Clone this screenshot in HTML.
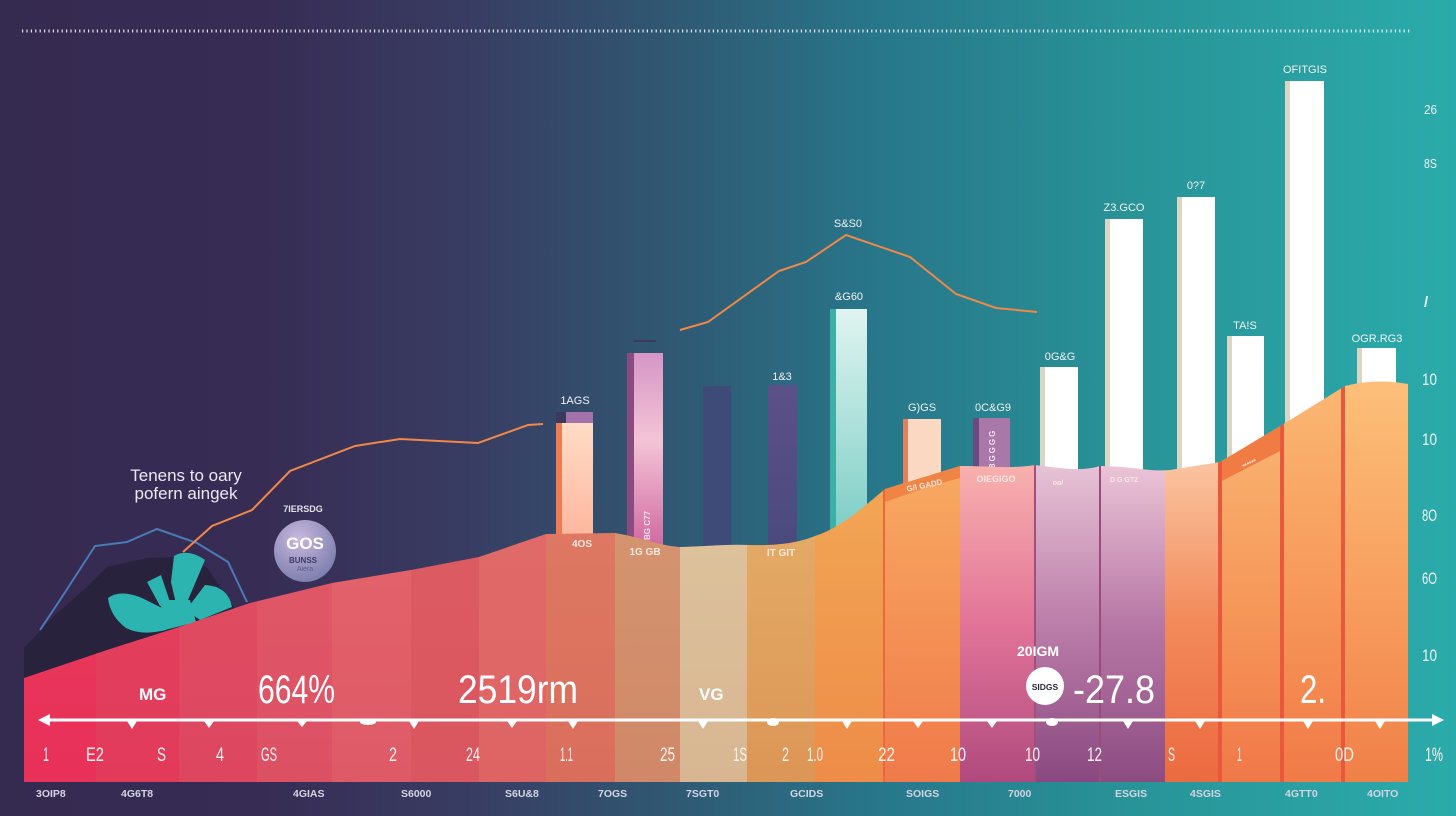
<!DOCTYPE html>
<html><head><meta charset="utf-8">
<style>
html,body{margin:0;padding:0;background:#352a50;}
svg{display:block;}
text{font-family:"Liberation Sans",sans-serif;}
</style></head>
<body>
<svg width="1456" height="816" viewBox="0 0 1456 816" xmlns="http://www.w3.org/2000/svg">
<defs>
<linearGradient id="bg" x1="0" y1="0" x2="1" y2="0">
<stop offset="0" stop-color="#352a50"/>
<stop offset="0.18" stop-color="#372c54"/>
<stop offset="0.32" stop-color="#393c62"/>
<stop offset="0.47" stop-color="#2f5a74"/>
<stop offset="0.6" stop-color="#28768a"/>
<stop offset="0.78" stop-color="#289498"/>
<stop offset="1" stop-color="#2babab"/>
</linearGradient>
<clipPath id="area"><path d="M24,678 L107,650 L179,627 L250,603 L332,583 L411,570 L479,557 L546,534 L615,533 C640,537 660,546 680,547 C710,546 730,544 750,545 C780,546 800,542 815,536 C840,528 860,510 885,489 L960,466 C990,466 1010,469 1035,465 C1060,468 1080,472 1100,466 C1130,466 1150,472 1170,470 L1220,462 C1240,450 1260,438 1282,425 L1345,386 C1365,381 1385,380 1408,384 L1408,782 L24,782 Z"/></clipPath>
<linearGradient id="s1" x1="0" y1="0" x2="0" y2="1"><stop offset="0" stop-color="#e8425f"/><stop offset="1" stop-color="#e83058"/></linearGradient>
<linearGradient id="s2" x1="0" y1="0" x2="0" y2="1"><stop offset="0" stop-color="#e4485f"/><stop offset="1" stop-color="#e23a5b"/></linearGradient>
<linearGradient id="s3" x1="0" y1="0" x2="0" y2="1"><stop offset="0" stop-color="#e15263"/><stop offset="1" stop-color="#de4660"/></linearGradient>
<linearGradient id="s4" x1="0" y1="0" x2="0" y2="1"><stop offset="0" stop-color="#e35e69"/><stop offset="1" stop-color="#dc5064"/></linearGradient>
<linearGradient id="s5" x1="0" y1="0" x2="0" y2="1"><stop offset="0" stop-color="#e5686d"/><stop offset="1" stop-color="#df5a67"/></linearGradient>
<linearGradient id="s6" x1="0" y1="0" x2="0" y2="1"><stop offset="0" stop-color="#de5e63"/><stop offset="1" stop-color="#da5660"/></linearGradient>
<linearGradient id="s7" x1="0" y1="0" x2="0" y2="1"><stop offset="0" stop-color="#e26e6a"/><stop offset="1" stop-color="#de6464"/></linearGradient>
<linearGradient id="s8" x1="0" y1="0" x2="0" y2="1"><stop offset="0" stop-color="#de7862"/><stop offset="1" stop-color="#d96e5c"/></linearGradient>
<linearGradient id="s9" x1="0" y1="0" x2="0" y2="1"><stop offset="0" stop-color="#d4946f"/><stop offset="1" stop-color="#d08868"/></linearGradient>
<linearGradient id="s10" x1="0" y1="0" x2="0" y2="1"><stop offset="0" stop-color="#dcc29c"/><stop offset="1" stop-color="#d8b692"/></linearGradient>
<linearGradient id="s11" x1="0" y1="0" x2="0" y2="1"><stop offset="0" stop-color="#e4aa66"/><stop offset="1" stop-color="#dc9656"/></linearGradient>
<linearGradient id="s12" x1="0" y1="0" x2="0" y2="1"><stop offset="0" stop-color="#f2a654"/><stop offset="1" stop-color="#ee8c48"/></linearGradient>
<linearGradient id="s13" x1="0" y1="0" x2="0" y2="1"><stop offset="0" stop-color="#f8aa62"/><stop offset="1" stop-color="#f07a4a"/></linearGradient>
<linearGradient id="s14" x1="0" y1="0" x2="0" y2="1"><stop offset="0" stop-color="#f8b2ae"/><stop offset="0.5" stop-color="#e27498"/><stop offset="1" stop-color="#b04a7e"/></linearGradient>
<linearGradient id="s15" x1="0" y1="0" x2="0" y2="1"><stop offset="0" stop-color="#e8c4d6"/><stop offset="0.5" stop-color="#bc7eaa"/><stop offset="1" stop-color="#8a4880"/></linearGradient>
<linearGradient id="s16" x1="0" y1="0" x2="0" y2="1"><stop offset="0" stop-color="#ecc6d8"/><stop offset="0.5" stop-color="#b878a6"/><stop offset="1" stop-color="#8c4c82"/></linearGradient>
<linearGradient id="s17" x1="0" y1="0" x2="0" y2="1"><stop offset="0" stop-color="#fac6a2"/><stop offset="0.5" stop-color="#f28a5a"/><stop offset="1" stop-color="#ec6a40"/></linearGradient>
<linearGradient id="s18" x1="0" y1="0" x2="0" y2="1"><stop offset="0" stop-color="#f9b472"/><stop offset="0.5" stop-color="#f6985a"/><stop offset="1" stop-color="#f07848"/></linearGradient>
<linearGradient id="s19" x1="0" y1="0" x2="0" y2="1"><stop offset="0" stop-color="#fbb874"/><stop offset="0.5" stop-color="#f79a5a"/><stop offset="1" stop-color="#f07a48"/></linearGradient>
<linearGradient id="s20" x1="0" y1="0" x2="0" y2="1"><stop offset="0" stop-color="#fcc07a"/><stop offset="0.5" stop-color="#f8a060"/><stop offset="1" stop-color="#f08048"/></linearGradient>
<linearGradient id="bA" x1="0" y1="0" x2="0" y2="1"><stop offset="0" stop-color="#ffdcc6"/><stop offset="1" stop-color="#ffb49c"/></linearGradient>
<linearGradient id="bB" x1="0" y1="0" x2="0" y2="1"><stop offset="0" stop-color="#d696c6"/><stop offset="0.45" stop-color="#f4c4d6"/><stop offset="1" stop-color="#d068a0"/></linearGradient>
<linearGradient id="bE" x1="0" y1="0" x2="0" y2="1"><stop offset="0" stop-color="#e0f4f0"/><stop offset="1" stop-color="#7ccec6"/></linearGradient>
<linearGradient id="bD" x1="0" y1="0" x2="0" y2="1"><stop offset="0" stop-color="#5c5088"/><stop offset="1" stop-color="#4a4a7e"/></linearGradient>
<radialGradient id="circ" cx="0.4" cy="0.3" r="0.8"><stop offset="0" stop-color="#c8b8dc"/><stop offset="1" stop-color="#7478a8"/></radialGradient>
</defs>

<rect x="0" y="0" width="1456" height="816" fill="url(#bg)"/>

<!-- dotted top line -->
<line x1="22" y1="31" x2="1410" y2="31" stroke="#ffffff" stroke-width="3" stroke-dasharray="1.2 3.2" opacity="0.85"/>

<!-- left dark hill -->
<path d="M24,700 L24,648 L53,617 L87,587 L107,567 L147,558 L177,557 L207,567 L220,587 L236,610 L250,640 L24,720 Z" fill="#28223c"/>
<polyline points="40,630 60,600 95,546 127,542 157,529 197,543 228,562 247,602" fill="none" stroke="#4a7ab8" stroke-width="2"/>
<!-- teal flower -->
<g fill="#2bb4b0">
<path d="M174,556 Q188,548 205,560 L188,600 L177,608 L171,582 Z"/>
<path d="M108,598 Q120,589 142,598 L170,612 L166,630 Q142,636 126,628 Q110,616 108,598 Z"/>
<path d="M205,585 Q228,586 232,607 L200,620 L186,610 Z"/>
<path d="M147,582 L161,575 L170,602 L160,606 Z"/>
<path d="M160,600 L190,600 L196,622 L165,630 Z"/>
</g>

<!-- orange line -->
<polyline points="183,552 212,526 252,510 290,471 355,446 400,439 478,443 528,425 543,424" fill="none" stroke="#f08848" stroke-width="2"/>
<polyline points="680,330 708,322 779,271 806,262 846,235 910,257 956,294 996,308 1037,312" fill="none" stroke="#f08848" stroke-width="2"/>

<!-- bars -->
<rect x="556" y="412" width="37" height="12" fill="#a472aa"/>
<rect x="556" y="412" width="10" height="12" fill="#3c3a5c"/>
<rect x="556" y="423" width="37" height="120" fill="url(#bA)"/>
<rect x="556" y="423" width="6" height="120" fill="#ee7c52"/>
<rect x="634" y="340" width="22" height="2" fill="#3a3a5a"/>
<rect x="627" y="353" width="36" height="195" fill="url(#bB)"/>
<rect x="627" y="353" width="7" height="195" fill="#8a4c80"/>
<text x="650" y="540" transform="rotate(-90 650 540)" font-size="8" fill="#f4e4ee" font-weight="bold">BG C77</text>
<rect x="703" y="386" width="28" height="162" fill="#3e4a78"/>
<rect x="768" y="385" width="29" height="163" fill="url(#bD)"/>
<rect x="830" y="309" width="37" height="225" fill="url(#bE)"/>
<rect x="830" y="309" width="6" height="225" fill="#3cb0a6"/>
<rect x="903" y="419" width="38" height="70" fill="#fbd8c2"/>
<rect x="903" y="419" width="5" height="70" fill="#e2805e"/>
<rect x="973" y="418" width="37" height="52" fill="#a878a8"/>
<rect x="973" y="418" width="6" height="52" fill="#6a4a80"/>
<text x="995" y="468" transform="rotate(-90 995 468)" font-size="8" fill="#f2e6f2" font-weight="bold" letter-spacing="2">8GGGG</text>
<g fill="#ffffff">
<rect x="1040" y="367" width="38" height="110"/>
<rect x="1105" y="219" width="38" height="255"/>
<rect x="1177" y="197" width="38" height="280"/>
<rect x="1227" y="336" width="37" height="130"/>
<rect x="1285" y="81" width="39" height="350"/>
<rect x="1357" y="348" width="39" height="40"/>
</g>
<g fill="#dad6c6">
<rect x="1040" y="367" width="5" height="110"/>
<rect x="1105" y="219" width="5" height="255"/>
<rect x="1177" y="197" width="5" height="280"/>
<rect x="1227" y="336" width="5" height="130"/>
<rect x="1285" y="81" width="5" height="350"/>
<rect x="1357" y="348" width="5" height="40"/>
</g>

<!-- area stripes -->
<g clip-path="url(#area)">
<rect x="24" y="370" width="72" height="412" fill="url(#s1)"/>
<rect x="96" y="370" width="83" height="412" fill="url(#s2)"/>
<rect x="179" y="370" width="78" height="412" fill="url(#s3)"/>
<rect x="257" y="370" width="75" height="412" fill="url(#s4)"/>
<rect x="332" y="370" width="79" height="412" fill="url(#s5)"/>
<rect x="411" y="370" width="68" height="412" fill="url(#s6)"/>
<rect x="479" y="370" width="67" height="412" fill="url(#s7)"/>
<rect x="546" y="530" width="69" height="252" fill="url(#s8)"/>
<rect x="615" y="530" width="65" height="252" fill="url(#s9)"/>
<rect x="680" y="530" width="67" height="252" fill="url(#s10)"/>
<rect x="747" y="530" width="68" height="252" fill="url(#s11)"/>
<rect x="815" y="480" width="70" height="302" fill="url(#s12)"/>
<rect x="885" y="462" width="75" height="320" fill="url(#s13)"/>
<rect x="960" y="462" width="75" height="320" fill="url(#s14)"/>
<rect x="1035" y="462" width="65" height="320" fill="url(#s15)"/>
<rect x="1100" y="462" width="65" height="320" fill="url(#s16)"/>
<rect x="1165" y="458" width="55" height="324" fill="url(#s17)"/>
<rect x="1220" y="420" width="62" height="362" fill="url(#s18)"/>
<rect x="1282" y="380" width="63" height="402" fill="url(#s19)"/>
<rect x="1345" y="378" width="63" height="404" fill="url(#s20)"/>
<path d="M885,489 L960,466 L960,478 L930,486 L885,502 Z" fill="#f08444"/>
<path d="M1220,462 C1240,450 1260,438 1282,425 L1282,450 L1220,482 Z" fill="#f07c44"/>
<rect x="883" y="480" width="2" height="302" fill="#e86a3c"/>
<rect x="1034" y="460" width="2" height="322" fill="#a0507e"/>
<rect x="1099" y="460" width="2" height="322" fill="#9a4c7c"/>
<rect x="1218" y="455" width="4" height="327" fill="#e8583a"/>
<rect x="1280" y="420" width="4" height="362" fill="#e8583a"/>
<rect x="1341" y="380" width="4" height="402" fill="#e8583a"/>
</g>

<!-- labels inside area top -->
<g font-size="10" font-weight="bold" fill="#fbe8e0">
<text x="582" y="547" text-anchor="middle">4OS</text>
<text x="645" y="555" text-anchor="middle">1G GB</text>
<text x="781" y="556" text-anchor="middle">IT GIT</text>
<text x="925" y="488" text-anchor="middle" font-size="8" transform="rotate(-12 925 488)">G/I GADD</text>
<text x="996" y="482" text-anchor="middle" font-size="9">OIEGIGO</text>
<text x="1058" y="485" text-anchor="middle" font-size="7">oo/</text>
<text x="1124" y="482" text-anchor="middle" font-size="7">D G GT2</text>
<text x="1250" y="465" text-anchor="middle" font-size="7" transform="rotate(-25 1250 465)">••••••</text>
</g>

<!-- labels over bars -->
<g font-size="11" fill="#f2f2f2" text-anchor="middle">
<text x="575" y="404">1AGS</text>
<text x="782" y="380">1&amp;3</text>
<text x="849" y="300">&amp;G60</text>
<text x="848" y="227">S&amp;S0</text>
<text x="922" y="411">G)GS</text>
<text x="993" y="411">0C&amp;G9</text>
<text x="1060" y="360">0G&amp;G</text>
<text x="1124" y="211">Z3.GCO</text>
<text x="1196" y="189">0?7</text>
<text x="1245" y="329">TA!S</text>
<text x="1305" y="73">OFITGIS</text>
<text x="1377" y="342">OGR.RG3</text>
</g>

<!-- right axis labels -->
<g fill="#eef4f4" font-size="17" lengthAdjust="spacingAndGlyphs">
<text x="1424" y="114" font-size="13" textLength="13" lengthAdjust="spacingAndGlyphs">26</text>
<text x="1424" y="168" font-size="13" textLength="13" lengthAdjust="spacingAndGlyphs">8S</text>
<text x="1424" y="307" font-size="15" font-weight="bold">/</text>
<text x="1422" y="385" textLength="15" lengthAdjust="spacingAndGlyphs">10</text>
<text x="1422" y="445" textLength="15" lengthAdjust="spacingAndGlyphs">10</text>
<text x="1422" y="521" textLength="15" lengthAdjust="spacingAndGlyphs">8O</text>
<text x="1422" y="584" textLength="15" lengthAdjust="spacingAndGlyphs">6O</text>
<text x="1422" y="661" textLength="15" lengthAdjust="spacingAndGlyphs">10</text>
</g>

<!-- left annotation -->
<g font-size="17" fill="#ece8f2" text-anchor="middle">
<text x="186" y="481">Tenens to oary</text>
<text x="186" y="499">pofern aingek</text>
</g>
<text x="303" y="512" font-size="9" font-weight="bold" fill="#e4e0ec" text-anchor="middle">7IERSDG</text>
<circle cx="305" cy="551" r="31" fill="url(#circ)"/>
<text x="305" y="549" font-size="17" font-weight="bold" fill="#ffffff" text-anchor="middle">GOS</text>
<text x="303" y="563" font-size="8" font-weight="bold" fill="#3a3a6a" text-anchor="middle">BUNSS</text>
<text x="305" y="571" font-size="7" fill="#5a5a8a" text-anchor="middle">Aiera</text>

<!-- big numbers -->
<text x="139" y="700" font-size="17" font-weight="bold" fill="#ffffff">MG</text>
<text x="258" y="703" font-size="40" fill="#ffffff" textLength="77" lengthAdjust="spacingAndGlyphs">664%</text>
<text x="458" y="703" font-size="40" fill="#ffffff" textLength="120" lengthAdjust="spacingAndGlyphs">2519rm</text>
<text x="699" y="700" font-size="17" font-weight="bold" fill="#ffffff">VG</text>
<text x="1017" y="656" font-size="14" font-weight="bold" fill="#ffffff">20IGM</text>
<circle cx="1045" cy="686" r="19" fill="#ffffff"/>
<text x="1045" y="690" font-size="8.5" font-weight="bold" fill="#2a2a3a" text-anchor="middle">SIDGS</text>
<text x="1073" y="703" font-size="40" fill="#ffffff" textLength="82" lengthAdjust="spacingAndGlyphs">-27.8</text>
<text x="1300" y="703" font-size="40" fill="#ffffff" textLength="26" lengthAdjust="spacingAndGlyphs">2.</text>

<!-- axis -->
<line x1="46" y1="720" x2="1436" y2="720" stroke="#ffffff" stroke-width="3"/>
<path d="M38,720 L50,714 L50,726 Z" fill="#ffffff"/>
<path d="M1444,720 L1432,714 L1432,726 Z" fill="#ffffff"/>
<g fill="#ffffff">
<path d="M127,721 L137,721 L132,729 Z"/>
<path d="M204,721 L214,721 L209,728 Z"/>
<path d="M297,721 L307,721 L302,727 Z"/>
<ellipse cx="368" cy="722" rx="8" ry="3"/>
<path d="M409,721 L419,721 L414,729 Z"/>
<path d="M507,721 L517,721 L512,728 Z"/>
<path d="M568,721 L578,721 L573,729 Z"/>
<path d="M698,721 L708,721 L703,729 Z"/>
<ellipse cx="773" cy="722" rx="6" ry="4"/>
<path d="M842,721 L852,721 L847,729 Z"/>
<path d="M913,721 L923,721 L918,728 Z"/>
<path d="M987,721 L997,721 L992,728 Z"/>
<ellipse cx="1052" cy="722" rx="6" ry="4"/>
<path d="M1123,721 L1133,721 L1128,729 Z"/>
<path d="M1195,721 L1205,721 L1200,729 Z"/>
<path d="M1303,721 L1313,721 L1308,729 Z"/>
<path d="M1375,721 L1385,721 L1380,729 Z"/>
</g>

<!-- axis labels -->
<g fill="#fff3f0" font-size="19">
<text x="43" y="761" textLength="6" lengthAdjust="spacingAndGlyphs">1</text>
<text x="86" y="761" textLength="18" lengthAdjust="spacingAndGlyphs">E2</text>
<text x="157" y="761" textLength="9" lengthAdjust="spacingAndGlyphs">S</text>
<text x="216" y="761" textLength="8" lengthAdjust="spacingAndGlyphs">4</text>
<text x="261" y="761" textLength="16" lengthAdjust="spacingAndGlyphs">GS</text>
<text x="389" y="761" textLength="8" lengthAdjust="spacingAndGlyphs">2</text>
<text x="466" y="761" textLength="14" lengthAdjust="spacingAndGlyphs">24</text>
<text x="560" y="761" textLength="13" lengthAdjust="spacingAndGlyphs">1.1</text>
<text x="660" y="761" textLength="15" lengthAdjust="spacingAndGlyphs">25</text>
<text x="733" y="761" textLength="14" lengthAdjust="spacingAndGlyphs">1S</text>
<text x="782" y="761" textLength="7" lengthAdjust="spacingAndGlyphs">2</text>
<text x="807" y="761" textLength="16" lengthAdjust="spacingAndGlyphs">1.0</text>
<text x="878" y="761" textLength="17" lengthAdjust="spacingAndGlyphs">22</text>
<text x="950" y="761" textLength="16" lengthAdjust="spacingAndGlyphs">10</text>
<text x="1025" y="761" textLength="15" lengthAdjust="spacingAndGlyphs">10</text>
<text x="1087" y="761" textLength="15" lengthAdjust="spacingAndGlyphs">12</text>
<text x="1168" y="761" textLength="7" lengthAdjust="spacingAndGlyphs">S</text>
<text x="1237" y="761" textLength="5" lengthAdjust="spacingAndGlyphs">1</text>
<text x="1335" y="761" textLength="19" lengthAdjust="spacingAndGlyphs">0D</text>
<text x="1425" y="761" textLength="18" lengthAdjust="spacingAndGlyphs">1%</text>
</g>

<!-- bottom labels -->
<g font-size="10.5" font-weight="bold" fill="#d4d4e4">
<text x="36" y="797">3OIP8</text>
<text x="121" y="797">4G6T8</text>
<text x="293" y="797">4GIAS</text>
<text x="401" y="797">S6000</text>
<text x="505" y="797">S6U&amp;8</text>
<text x="598" y="797">7OGS</text>
<text x="686" y="797">7SGT0</text>
<text x="790" y="797">GCIDS</text>
<text x="906" y="797">SOIGS</text>
<text x="1008" y="797">7000</text>
<text x="1115" y="797">ESGIS</text>
<text x="1190" y="797">4SGIS</text>
<text x="1285" y="797">4GTT0</text>
<text x="1367" y="797">4OITO</text>
</g>
</svg>
</body></html>
